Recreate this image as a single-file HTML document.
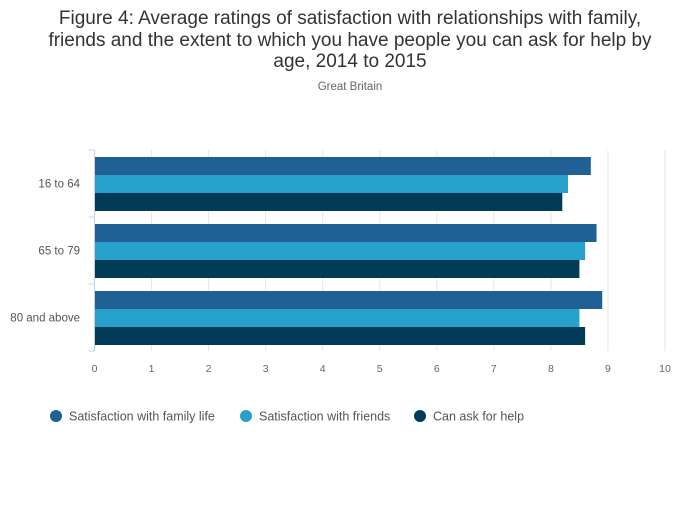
<!DOCTYPE html>
<html><head><meta charset="utf-8"><style>
body{margin:0;background:#fff;font-family:"Liberation Sans",sans-serif;}
</style></head><body>
<svg width="700" height="502" xmlns="http://www.w3.org/2000/svg">
<rect width="700" height="502" fill="#fff"/>
<text x="350" y="24" text-anchor="middle" font-size="19" fill="#333">Figure 4: Average ratings of satisfaction with relationships with family,</text>
<text x="350" y="46" text-anchor="middle" font-size="19" fill="#333">friends and the extent to which you have people you can ask for help by</text>
<text x="350" y="67" text-anchor="middle" font-size="19" fill="#333">age, 2014 to 2015</text>
<text x="350" y="90" text-anchor="middle" font-size="11.5" fill="#666">Great Britain</text>
<g id="grid"></g><g id="bars"></g><g id="axes"></g><g id="legend"></g>
</svg>
<script>
const categories=["16 to 64","65 to 79","80 and above"];
const seriesNames=["Satisfaction with family life","Satisfaction with friends","Can ask for help"];
const family=[8.7,8.8,8.9];
const friends=[8.3,8.6,8.5];
const help=[8.2,8.5,8.6];
const xTicks=[0,1,2,3,4,5,6,7,8,9,10];
const colors=["#206095","#27a0cc","#003c57"];
const NS="http://www.w3.org/2000/svg";
const x0=94.5,x1=665,yTop=150,band=67;
const xs=v=>x0+(x1-x0)*v/10;
function mk(t,a,p){const e=document.createElementNS(NS,t);for(const k in a)e.setAttribute(k,a[k]);document.getElementById(p).appendChild(e);return e;}
xTicks.forEach(t=>{
 if(t>0){const g=mk('line',{x1:xs(t),x2:xs(t),y1:yTop,y2:yTop+band*3,stroke:'#e6e6e6'},'grid');
 
 }
 const l=mk('text',{x:xs(t),y:372,'text-anchor':'middle','font-size':10.5,fill:'#666'},'axes');l.textContent=t;
 
 
});
const series=[family,friends,help];
categories.forEach((c,i)=>{
 const gy=yTop+band*i+7;
 series.forEach((s,j)=>{
  const r=mk('rect',{x:x0,y:gy+18*j,width:xs(s[i])-x0,height:18,fill:colors[j]},'bars');
  
  
 });
 const t=mk('text',{x:80,y:yTop+band*i+band/2+4,'text-anchor':'end','font-size':11.5,fill:'#555'},'axes');t.textContent=c;
 
 
});
const ax=mk('line',{x1:x0,x2:x0,y1:yTop,y2:yTop+band*3,stroke:'#c8d0e0'},'axes');


for(let i=0;i<=3;i++){const tk=mk('line',{x1:x0-6,x2:x0,y1:yTop+band*i,y2:yTop+band*i,stroke:'#c8d0e0'},'axes');
 
 }
const lx=[56,246,420];
seriesNames.forEach((n,j)=>{
 const c=mk('circle',{cx:lx[j],cy:416,r:6,fill:colors[j]},'legend');
 
 
 const t=mk('text',{x:lx[j]+13,y:420.5,'font-size':12.5,fill:'#555'},'legend');t.textContent=n;
 
 
});
</script>
</body></html>
